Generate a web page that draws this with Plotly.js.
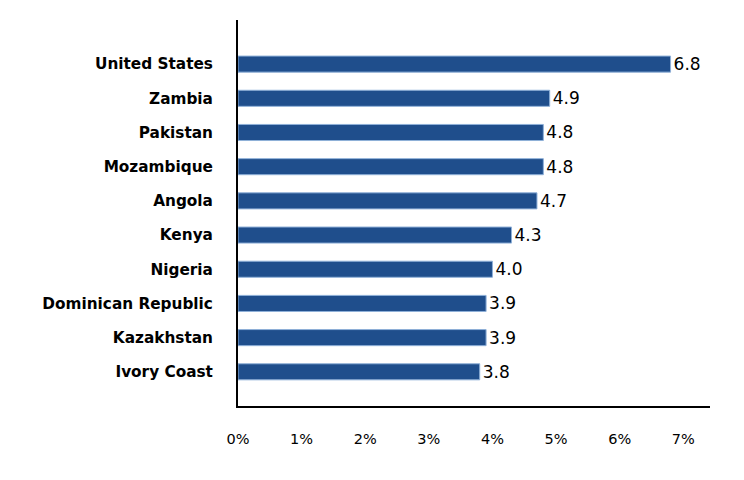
<!DOCTYPE html>
<html><head><meta charset="utf-8">
<script src="https://cdn.plot.ly/plotly-3.0.1.min.js"></script>
<style>html,body{margin:0;padding:0;background:#fff}</style>
</head><body>
<div id="chart" style="width:744px;height:480px"></div>
<script>
const countries = ["Ivory Coast","Kazakhstan","Dominican Republic","Nigeria","Kenya","Angola","Mozambique","Pakistan","Zambia","United States"];
const values = [3.8,3.9,3.9,4.0,4.3,4.7,4.8,4.8,4.9,6.8];
const xTicks = [0,1,2,3,4,5,6,7];
const xTickLabels = ["0%","1%","2%","3%","4%","5%","6%","7%"];

Plotly.newPlot("chart", [{
  type: "bar",
  orientation: "h",
  y: countries,
  x: values,
  text: values.map(v => v.toFixed(1)),
  textposition: "outside",
  constraintext: "none",
  cliponaxis: false,
  textfont: {family: "DejaVu Sans, sans-serif", size: 17, color: "#000"},
  marker: {color: "#1f4e8c", line: {color: "#8fb0d8", width: 1}},
  width: 0.47,
  hoverinfo: "none"
}], {
  width: 744, height: 480,
  margin: {l: 238, r: 34, t: 20, b: 74},
  paper_bgcolor: "#fff", plot_bgcolor: "#fff",
  showlegend: false,
  bargap: 0.5,
  xaxis: {
    range: [0, 7.42],
    tickvals: xTicks, ticktext: xTickLabels,
    showgrid: false, zeroline: false,
    showline: true, linecolor: "#000", linewidth: 2,
    ticks: "", ticklabelstandoff: 19,
    tickfont: {family: "DejaVu Sans, sans-serif", size: 14.5, color: "#000"},
    fixedrange: true
  },
  yaxis: {
    type: "category",
    range: [-1, 10.29],
    showgrid: false, zeroline: false,
    showline: true, linecolor: "#000", linewidth: 2,
    ticks: "", ticklabelstandoff: 20,
    tickfont: {family: "DejaVu Sans, sans-serif", size: 15.3, color: "#000", weight: "bold"},
    fixedrange: true
  }
}, {displayModeBar: false, staticPlot: true});
</script>
</body></html>
